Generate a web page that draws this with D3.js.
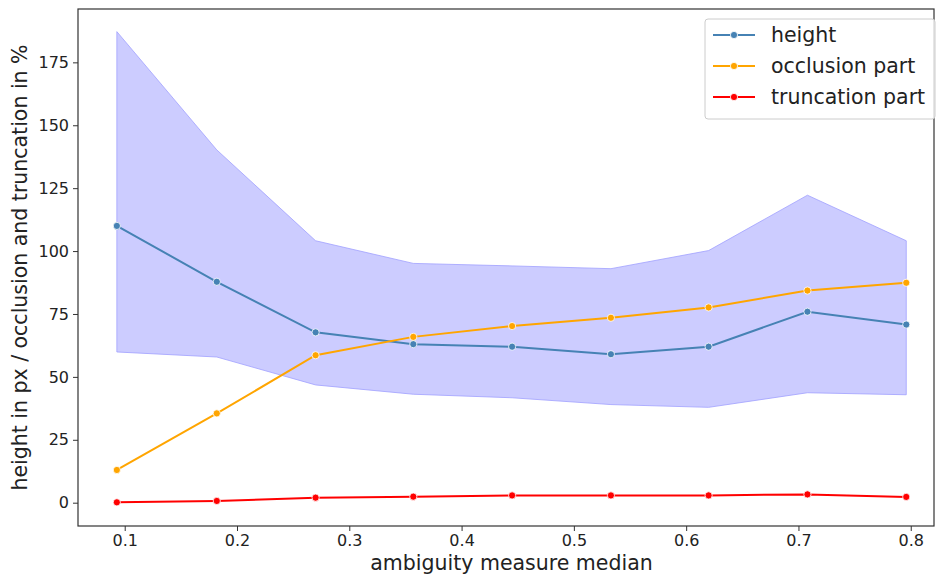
<!DOCTYPE html>
<html>
<head>
<meta charset="utf-8">
<script src="https://cdn.jsdelivr.net/npm/d3@7"></script>
<style>
  body { margin: 0; background: #fff; }
  svg text { font-family: "DejaVu Sans", sans-serif; fill: #222; }
</style>
</head>
<body>
<div id="chart"></div>
<script>
// data
const xVals = [0.093, 0.182, 0.27, 0.357, 0.445, 0.533, 0.62, 0.708, 0.796];
const heightVals = [110, 87.8, 67.7, 63.0, 62.0, 59.0, 62.0, 75.9, 70.8];
const heightUpper = [187.2, 140.2, 104.1, 95.1, 94.1, 93.0, 100.2, 122.2, 104.1];
const heightLower = [59.9, 57.9, 46.8, 43.1, 41.7, 39.0, 37.9, 43.7, 42.9];
const occlusionVals = [13.0, 35.5, 58.6, 65.9, 70.2, 73.5, 77.6, 84.3, 87.4];
const truncationVals = [0.15, 0.7, 2.0, 2.4, 2.9, 2.9, 2.9, 3.3, 2.3];
const xTicks = [0.1, 0.2, 0.3, 0.4, 0.5, 0.6, 0.7, 0.8];
const yTicks = [0, 25, 50, 75, 100, 125, 150, 175];

const series = [
    { name: "height", values: heightVals, color: "#4682b4" },
    { name: "occlusion part", values: occlusionVals, color: "#ffa500" },
    { name: "truncation part", values: truncationVals, color: "#ff0000" }
];

const width = 936, height = 575;
const margin = { top: 9, right: 1, bottom: 49, left: 78 };

const svg = d3.select("#chart").append("svg")
    .attr("width", width)
    .attr("height", height);

const x = d3.scaleLinear()
    .domain([0.0584, 0.8216])
    .range([margin.left, width - margin.right]);
const y = d3.scaleLinear()
    .domain([-9.26, 196.2])
    .range([height - margin.bottom, margin.top]);

// confidence band
const band = d3.area()
    .x((d, i) => x(xVals[i]))
    .y0((d, i) => y(heightLower[i]))
    .y1((d) => y(d));
svg.append("path")
    .datum(heightUpper)
    .attr("d", band)
    .attr("fill", "rgb(204,204,255)")
    .attr("stroke", "rgba(160,160,255,0.8)")
    .attr("stroke-width", 1);

// lines + markers
const line = d3.line()
    .x((d, i) => x(xVals[i]))
    .y((d) => y(d));

series.forEach(s => {
    svg.append("path")
        .datum(s.values)
        .attr("d", line)
        .attr("fill", "none")
        .attr("stroke", s.color)
        .attr("stroke-width", 2);
    svg.selectAll(null)
        .data(s.values)
        .enter()
        .append("circle")
        .attr("cx", (d, i) => x(xVals[i]))
        .attr("cy", d => y(d))
        .attr("r", 3.6)
        .attr("fill", s.color)
        .attr("stroke", "#fff")
        .attr("stroke-width", 0.8);
});

// axes
const xAxis = svg.append("g")
    .attr("transform", `translate(0,${height - margin.bottom})`)
    .call(d3.axisBottom(x).tickValues(xTicks).tickFormat(d3.format(".1f")).tickSize(5).tickSizeOuter(0));
const yAxis = svg.append("g")
    .attr("transform", `translate(${margin.left},0)`)
    .call(d3.axisLeft(y).tickValues(yTicks).tickSize(5).tickSizeOuter(0));

[xAxis, yAxis].forEach(a => {
    a.select(".domain").remove();
    a.selectAll(".tick line").attr("stroke", "#333").attr("stroke-width", 1);
    a.selectAll(".tick text").attr("font-size", 16).attr("fill", "#222");
});
xAxis.selectAll(".tick text").attr("y", 9).attr("dy", "0.71em");
yAxis.selectAll(".tick text").attr("x", -9);

// frame
svg.append("rect")
    .attr("x", margin.left)
    .attr("y", margin.top)
    .attr("width", width - margin.left - margin.right - 1)
    .attr("height", height - margin.top - margin.bottom)
    .attr("fill", "none")
    .attr("stroke", "#333")
    .attr("stroke-width", 1.2);

// axis labels
svg.append("text")
    .attr("x", (margin.left + width - margin.right) / 2 + 5)
    .attr("y", 569.5)
    .attr("text-anchor", "middle")
    .attr("font-size", 20.5)
    .text("ambiguity measure median");
svg.append("text")
    .attr("transform", `translate(27,${(margin.top + height - margin.bottom) / 2}) rotate(-90)`)
    .attr("text-anchor", "middle")
    .attr("font-size", 20.5)
    .text("height in px / occlusion and truncation in %");

// legend
const lg = svg.append("g").attr("transform", "translate(705,19)");
lg.append("rect")
    .attr("width", 230)
    .attr("height", 100)
    .attr("rx", 3)
    .attr("fill", "#fff")
    .attr("fill-opacity", 0.8)
    .attr("stroke", "#ccc");
series.forEach((s, i) => {
    const g = lg.append("g").attr("transform", `translate(0,${16 + i * 31})`);
    g.append("line")
        .attr("x1", 8).attr("x2", 50)
        .attr("stroke", s.color).attr("stroke-width", 2);
    g.append("circle")
        .attr("cx", 29).attr("r", 3.6)
        .attr("fill", s.color).attr("stroke", "#fff").attr("stroke-width", 0.8);
    g.append("text")
        .attr("x", 66).attr("dy", "0.35em")
        .attr("font-size", 20.5)
        .text(s.name);
});
</script>
</body>
</html>
